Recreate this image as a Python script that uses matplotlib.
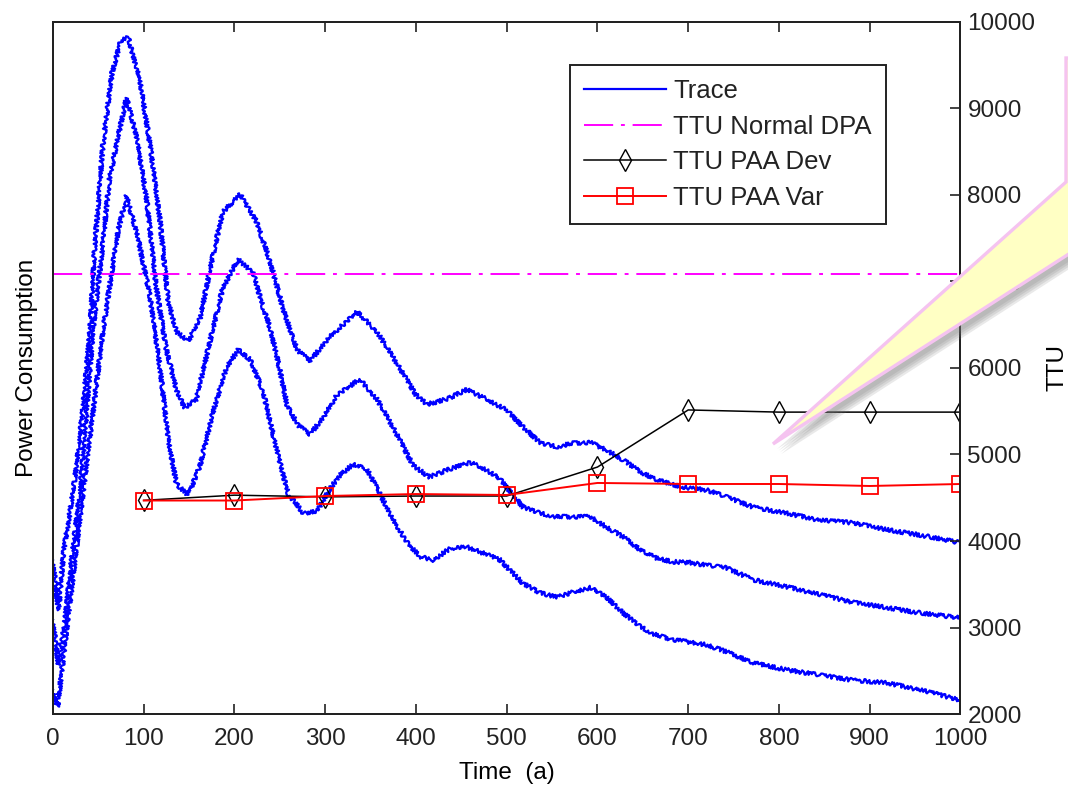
import matplotlib
matplotlib.use("Agg")
import matplotlib.pyplot as plt
import matplotlib.patheffects as pe
from matplotlib.patches import Polygon

plt.rcParams['font.family'] = ['Liberation Sans', 'DejaVu Sans']
plt.rcParams['font.size'] = 17.5
plt.rcParams['text.color'] = '#222222'
plt.rcParams['xtick.color'] = '#222222'
plt.rcParams['ytick.color'] = '#222222'

# power traces (arbitrary units), three runs
time_a = [0, 6, 12, 19, 26, 33, 41, 46, 55, 65, 75, 83, 96, 107, 118, 127, 136, 149, 162, 176,
          187, 206, 224, 239, 254, 269, 283, 305, 335, 357, 379, 400, 412, 434, 456, 478, 500,
          518, 537, 555, 573, 592, 610, 628, 647, 665, 683, 702, 720, 742, 772, 809, 845, 882,
          919, 955, 1000]
power_a = [1.78, 1.20, 1.90, 2.35, 2.87, 3.54, 4.46, 5.40, 6.58, 7.41, 7.79, 7.82, 7.31, 6.58,
           5.70, 4.77, 4.42, 4.31, 4.57, 5.29, 5.80, 6.01, 5.70, 5.24, 4.67, 4.21, 4.08, 4.36,
           4.65, 4.42, 4.05, 3.69, 3.58, 3.64, 3.75, 3.64, 3.51, 3.32, 3.13, 3.09, 3.13, 3.14,
           3.05, 2.94, 2.80, 2.71, 2.65, 2.61, 2.59, 2.51, 2.39, 2.32, 2.24, 2.21, 2.13, 2.07,
           1.98]

time_b = [0, 6, 13, 21, 30, 37, 44, 55, 62, 74, 81, 92, 103, 114, 125, 136, 145, 158, 173, 187,
          204, 221, 231, 240, 250, 258, 270, 283, 298, 313, 338, 357, 379, 397, 415, 434, 460,
          478, 493, 500, 518, 537, 555, 573, 592, 610, 628, 647, 665, 683, 702, 720, 742, 772,
          809, 845, 882, 919, 955, 1000]
power_b = [1.09, 0.57, 1.06, 1.83, 2.60, 3.48, 4.42, 5.45, 6.17, 6.79, 7.12, 6.68, 5.97, 4.92,
           4.21, 3.75, 3.54, 3.64, 4.31, 4.92, 5.26, 5.09, 4.72, 4.44, 3.98, 3.57, 3.34, 3.23,
           3.43, 3.69, 3.87, 3.64, 3.23, 2.87, 2.74, 2.82, 2.91, 2.82, 2.71, 2.62, 2.39, 2.32,
           2.28, 2.28, 2.28, 2.16, 2.05, 1.90, 1.80, 1.76, 1.75, 1.72, 1.69, 1.55, 1.47, 1.38,
           1.29, 1.23, 1.17, 1.11]

time_c = [0, 5, 13, 22, 33, 44, 55, 65, 72, 81, 94, 107, 118, 127, 136, 149, 162, 176, 191, 204,
          217, 231, 246, 259, 276, 291, 305, 316, 331, 346, 360, 375, 390, 404, 419, 437, 456,
          474, 493, 500, 518, 537, 555, 573, 592, 610, 628, 647, 665, 683, 702, 720, 742, 772,
          809, 845, 882, 919, 955, 1000]
power_c = [0.28, 0.08, 0.80, 1.57, 2.55, 3.48, 4.42, 5.13, 5.60, 5.99, 5.49, 4.82, 4.00, 3.18,
           2.66, 2.53, 2.87, 3.48, 4.00, 4.21, 4.10, 3.75, 3.08, 2.55, 2.32, 2.35, 2.60, 2.76,
           2.89, 2.83, 2.55, 2.24, 1.99, 1.82, 1.78, 1.91, 1.93, 1.86, 1.78, 1.70, 1.51, 1.40,
           1.35, 1.41, 1.46, 1.35, 1.17, 1.01, 0.91, 0.86, 0.83, 0.80, 0.72, 0.59, 0.51, 0.45,
           0.39, 0.36, 0.28, 0.16]

# TTU results
ttu_time = [100, 200, 300, 400, 500, 600, 700, 800, 900, 1000]
ttu_dev = [4470, 4530, 4510, 4520, 4520, 4855, 5515, 5490, 5490, 5490]
ttu_var = [4468, 4468, 4520, 4543, 4532, 4671, 4659, 4659, 4636, 4659]
ttu_normal_dpa = 7090

time_ticks = list(range(0, 1001, 100))
ttu_ticks = list(range(2000, 10001, 1000))

fig = plt.figure(figsize=(10.68, 7.88), dpi=100)
ax = fig.add_axes([0.0496, 0.0939, 0.8497, 0.8782])
ax2 = ax.twinx()

# traces on the left axis
for t, p in [(time_a, power_a), (time_b, power_b), (time_c, power_c)]:
    ln, = ax.plot(t, p, color=(0, 0, 1), lw=1.6)
    ln.set_sketch_params(scale=2.0, length=2.5, randomness=4)
ax.set_xlim(0, 1000)
ax.set_ylim(0, 8)
ax.set_yticks([])
ax.set_xticks(time_ticks)
ax.tick_params(axis='x', direction='in', top=True, length=7, width=1.2, pad=10)
ax.set_xlabel('Time  (a)', labelpad=9)
ax.set_ylabel('Power Consumption', labelpad=11)

# TTU lines on the right axis
ax2.plot([0, 1000], [ttu_normal_dpa, ttu_normal_dpa], color=(1, 0, 1), lw=1.4,
         dashes=(15, 4, 2, 4), label='TTU Normal DPA')
ax2.plot(ttu_time, ttu_dev, color='black', lw=1.1, marker='d', ms=11,
         mfc='none', mec='black', mew=1.0, label='TTU PAA Dev')
ax2.plot(ttu_time, ttu_var, color='red', lw=1.4, marker='s', ms=12,
         mfc='none', mec='red', mew=1.3, label='TTU PAA Var')
ax2.set_ylim(2000, 10000)
ax2.set_yticks(ttu_ticks)
ax2.tick_params(axis='y', direction='in', length=7, width=1.2, pad=5)
ax2.set_ylabel('TTU', labelpad=8)

for a in (ax, ax2):
    for s in a.spines.values():
        s.set_linewidth(1.4)
        s.set_color('#222222')

handles = [ax.lines[0]] + ax2.lines
labels = ['Trace', 'TTU Normal DPA', 'TTU PAA Dev', 'TTU PAA Var']
leg = ax2.legend(handles, labels, loc='upper left', bbox_to_anchor=(0.5697, 0.938),
                 borderaxespad=0, fancybox=False, framealpha=1, edgecolor='#222222',
                 fontsize=18.5, handlelength=3.2, handletextpad=0.27, labelspacing=0.45,
                 borderpad=0.55, numpoints=1)
leg.get_frame().set_linewidth(1.4)
leg.legend_handles[0].set_sketch_params(None)

# callout tail coming in from the right edge, with a soft shadow
W, H = 1068, 788
tail = [(1066, 58), (1066, 182), (773, 444), (1075, 250), (1075, 58)]
shadow = [pe.SimplePatchShadow(offset=(d, -d * 1.2), shadow_rgbFace='#777777', alpha=0.16)
          for d in (6, 5, 4, 3)]
poly = Polygon([(x / W, 1 - y / H) for x, y in tail], closed=True,
               transform=fig.transFigure, facecolor='#FFFFC4', edgecolor='#F5C3F0',
               lw=2.4, zorder=10, clip_on=False,
               path_effects=shadow + [pe.Normal()])
fig.patches.append(poly)

fig.savefig('out.png', dpi=100)
